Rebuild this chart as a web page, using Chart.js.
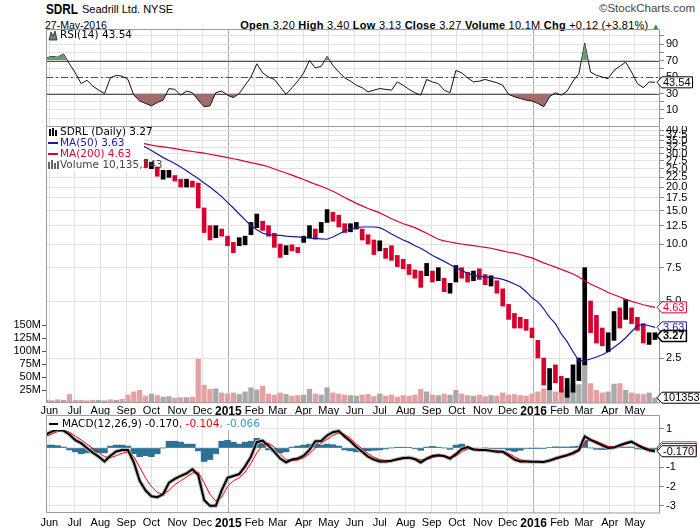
<!DOCTYPE html>
<html>
<head>
<meta charset="utf-8">
<script src="https://cdn.jsdelivr.net/npm/chart.js@4.4.0/dist/chart.umd.min.js"></script>
<style>
body { margin: 0; width: 700px; height: 530px; overflow: hidden; position: relative; background: #fff; font-family: "Liberation Sans", Arial, sans-serif; }
canvas { position: absolute; left: 0; }
.hd { position: absolute; white-space: nowrap; color: #000; line-height: 1; }
</style>
</head>
<body>
<div class="hd" style="left:46px;top:2px;font-size:14px;font-weight:bold;transform:scaleX(0.84);transform-origin:left top">SDRL</div>
<div class="hd" style="left:82px;top:4px;font-size:11px">Seadrill Ltd. NYSE</div>
<div class="hd" style="right:5px;top:3px;font-size:11.5px;color:#444">&copy;StockCharts.com</div>
<div class="hd" style="left:45px;top:20px;font-size:10.5px">27-May-2016</div>
<div class="hd" style="right:40px;top:20px;font-size:11px;letter-spacing:0.25px"><b>Open</b> 3.20 <b>High</b> 3.40 <b>Low</b> 3.13 <b>Close</b> 3.27 <b>Volume</b> 10.1M <b>Chg</b> +0.12 (+3.81%) <span style="color:#3a8a3a;font-size:8px">&#9650;</span></div>

<canvas id="rsiChart" width="700" height="97" style="top:29px;width:700px;height:97px"></canvas>
<canvas id="priceChart" width="700" height="291" style="top:126px;width:700px;height:291px"></canvas>
<canvas id="macdChart" width="700" height="115" style="top:415px;width:700px;height:115px"></canvas>

<script>
// weekly samples, one per week starting Wed 28-May-2014
const firstWeek = '2014-05-28';

const highs = [39.5, 40.0, 39.8, 39.5, 39.0, 38.5, 38.0, 37.5, 37.2, 37.5,
  37.5, 37.2, 37.2, 37.0, 36.0, 34.0, 31.0, 28.0, 27.0, 25.5,
  24.5, 24.5, 23.0, 22.0, 22.0, 21.5, 21.0, 15.5, 12.5, 12.5,
  12.0, 11.0, 10.2, 10.8, 11.0, 13.0, 14.4, 13.2, 12.5, 11.4,
  10.0, 9.8, 9.9, 9.6, 11.0, 12.5, 12.0, 13.0, 15.2, 14.7,
  14.2, 12.8, 12.8, 13.0, 12.0, 11.2, 10.5, 10.4, 9.5, 9.8,
  8.7, 8.3, 7.8, 7.3, 7.2, 7.9, 7.2, 7.5, 6.6, 6.2,
  7.7, 7.5, 7.1, 7.2, 7.4, 6.9, 6.8, 6.4, 5.8, 4.8,
  4.3, 4.1, 4.0, 3.6, 3.1, 2.5, 2.2, 2.3, 2.0, 1.95,
  2.3, 2.5, 7.5, 5.0, 4.2, 3.6, 3.4, 4.4, 4.6, 5.1,
  4.6, 4.1, 3.8, 3.4, 3.40];
const lows = [37.8, 38.5, 38.6, 38.0, 37.5, 37.0, 36.5, 36.0, 35.8, 36.0,
  36.2, 36.0, 36.0, 35.8, 33.5, 30.5, 28.5, 25.5, 25.0, 22.8,
  22.0, 22.5, 21.5, 20.0, 20.0, 20.0, 15.5, 11.5, 10.5, 10.8,
  11.0, 9.8, 9.0, 9.8, 9.9, 11.2, 12.2, 11.8, 11.0, 9.6,
  8.5, 8.8, 9.2, 9.0, 10.2, 10.8, 10.6, 11.5, 13.0, 13.2,
  12.3, 11.5, 11.6, 12.0, 10.5, 10.0, 8.8, 9.2, 8.4, 8.2,
  7.6, 7.4, 6.9, 6.6, 5.9, 6.8, 6.3, 6.4, 5.6, 5.5,
  6.3, 6.6, 6.3, 6.4, 6.5, 6.1, 6.0, 5.5, 4.7, 4.0,
  3.6, 3.6, 3.5, 3.2, 2.5, 1.8, 1.7, 1.85, 1.65, 1.55,
  1.65, 1.9, 2.3, 3.4, 3.0, 2.9, 2.7, 3.1, 3.6, 4.0,
  3.8, 3.5, 3.0, 2.95, 3.13];
const closes = [38.8, 39.5, 39.0, 39.2, 38.0, 37.6, 37.0, 36.5, 36.2, 36.8,
  36.9, 36.5, 36.8, 36.2, 34.0, 31.0, 29.0, 26.0, 26.2, 23.0,
  23.5, 23.8, 22.0, 21.0, 21.2, 20.8, 16.0, 12.0, 11.0, 12.0,
  11.4, 10.0, 9.5, 10.4, 10.8, 12.8, 13.0, 12.0, 11.2, 9.8,
  9.0, 9.5, 9.4, 9.3, 10.8, 11.8, 11.0, 12.8, 14.8, 13.5,
  12.6, 12.0, 12.2, 12.4, 10.8, 10.6, 9.2, 9.8, 8.7, 8.6,
  7.9, 7.8, 7.0, 6.8, 6.7, 7.4, 6.5, 7.0, 5.8, 6.0,
  7.4, 6.9, 6.6, 6.8, 6.7, 6.3, 6.5, 5.8, 4.8, 4.1,
  3.9, 3.7, 3.6, 3.3, 2.6, 1.9, 2.0, 1.95, 1.7, 1.8,
  2.2, 2.4, 4.2, 3.6, 3.2, 3.0, 3.2, 4.2, 4.1, 4.5,
  4.0, 3.7, 3.1, 3.15, 3.27];
// volume in millions of shares
const volumes = [6, 5, 7, 6, 17, 6, 6, 5, 6, 6,
  5, 7, 6, 8, 16, 22, 25, 14, 18, 15,
  12, 13, 10, 11, 11, 12, 85, 35, 27, 28,
  20, 18, 20, 17, 22, 30, 26, 33, 18, 16,
  20, 17, 14, 15, 16, 27, 18, 16, 30, 20,
  18, 16, 15, 14, 16, 17, 13, 18, 14, 16,
  12, 15, 14, 16, 27, 22, 16, 15, 18, 16,
  25, 18, 15, 14, 16, 13, 15, 14, 20, 16,
  17, 15, 14, 18, 22, 28, 27, 22, 25, 30,
  38, 36, 80, 38, 25, 20, 22, 37, 38, 25,
  20, 18, 17, 20, 10.135343];
const ma50 = [36.3, 36.6, 36.9, 37.2, 37.4, 37.6, 37.7, 37.7, 37.6, 37.4,
  37.1, 36.6, 36.2, 35.9, 35.6, 35.0, 33.8, 32.4, 31.2, 29.9,
  28.6, 27.6, 26.6, 25.5, 24.4, 23.2, 22.2, 21.0, 20.0, 18.9,
  17.8, 16.6, 15.5, 14.4, 13.4, 12.5, 11.9, 11.4, 11.2, 11.1,
  11.1, 11.0, 10.95, 10.9, 10.8, 10.75, 10.7, 10.65, 10.6, 10.9,
  11.3, 11.7, 12.0, 12.2, 12.3, 12.3, 12.3, 12.2, 11.8, 11.3,
  10.9, 10.5, 10.2, 9.8, 9.5, 9.1, 8.7, 8.4, 8.1, 7.8,
  7.5, 7.25, 7.0, 6.85, 6.75, 6.7, 6.65, 6.6, 6.5, 6.35,
  6.15, 5.95, 5.6, 5.2, 4.95, 4.55, 4.1, 3.8, 3.35, 3.05,
  2.7, 2.42, 2.42, 2.47, 2.53, 2.6, 2.7, 2.85, 3.0, 3.2,
  3.45, 3.7, 3.76, 3.7, 3.63];
const ma200 = [36.4, 36.5, 36.6, 36.6, 36.6, 36.6, 36.5, 36.5, 36.4, 36.3,
  36.2, 36.0, 35.7, 35.3, 34.9, 34.5, 34.2, 33.8, 33.3, 32.9,
  32.6, 32.3, 31.9, 31.5, 31.1, 30.8, 30.5, 30.2, 29.8, 29.4,
  29.0, 28.6, 28.2, 27.8, 27.3, 26.9, 26.5, 26.1, 25.6, 24.9,
  24.3, 23.7, 23.1, 22.5, 21.9, 21.3, 20.7, 20.2, 19.6, 19.0,
  18.3, 17.6, 17.0, 16.4, 15.9, 15.4, 15.0, 14.6, 14.1, 13.6,
  13.2, 12.8, 12.5, 12.2, 11.8, 11.4, 11.0, 10.6, 10.4, 10.25,
  10.1, 10.0, 9.9, 9.8, 9.7, 9.6, 9.5, 9.35, 9.2, 9.05,
  8.95, 8.8, 8.6, 8.45, 8.2, 7.95, 7.75, 7.55, 7.35, 7.15,
  6.95, 6.7, 6.4, 6.15, 5.95, 5.75, 5.55, 5.4, 5.25, 5.1,
  4.98, 4.88, 4.78, 4.7, 4.63];
const rsi = [73, 75, 74, 78, 66, 55, 42, 46, 39, 34,
  30, 49, 52, 51, 47, 28, 21, 18, 15, 19,
  22, 36, 35, 28, 33, 31, 22, 14, 15, 31,
  33, 28, 25, 30, 40, 50, 66, 55, 50, 47,
  38, 29, 37, 45, 55, 70, 61, 63, 75, 64,
  56, 49, 45, 40, 37, 32, 34, 36, 35, 34,
  44, 40, 35, 31, 28, 47, 44, 42, 34, 31,
  58, 55, 49, 44, 45, 47, 45, 43, 40, 29,
  26, 24, 22, 21, 18, 14, 26, 31, 28, 33,
  45, 54, 91, 56, 52, 50, 48, 58, 63, 68,
  56, 42, 37, 44, 43.54];
const macd = [0.7, 0.85, 0.95, 0.9, 0.7, 0.41, 0.25, 0.0, -0.25, -0.45,
  -0.7, -0.4, -0.18, -0.1, -0.1, -0.75, -1.7, -2.2, -2.5, -2.55,
  -2.4, -1.8, -1.6, -1.45, -1.32, -1.1, -1.4, -2.7, -3.0, -3.0,
  -2.2, -1.55, -1.45, -1.35, -0.95, -0.45, 0.3, 0.38, 0.12, -0.2,
  -0.55, -0.75, -0.6, -0.55, -0.4, -0.1, 0.35, 0.36, 0.65, 0.82,
  0.88, 0.6, 0.35, 0.05, -0.2, -0.45, -0.6, -0.7, -0.7, -0.66,
  -0.58, -0.52, -0.5, -0.58, -0.75, -0.55, -0.42, -0.38, -0.42, -0.55,
  -0.32, -0.05, 0.05, -0.08, -0.1, -0.1, -0.15, -0.19, -0.2, -0.38,
  -0.6, -0.7, -0.7, -0.71, -0.71, -0.72, -0.65, -0.54, -0.45, -0.37,
  -0.25, -0.1, 0.6, 0.42, 0.28, 0.14, 0.0, 0.02, 0.14, 0.25,
  0.33, 0.15, 0.0, -0.12, -0.170];
const signal = [0.6, 0.72, 0.85, 0.9, 0.82, 0.62, 0.42, 0.2, -0.02, -0.22,
  -0.45, -0.5, -0.4, -0.28, -0.2, -0.45, -1.0, -1.55, -2.0, -2.3,
  -2.4, -2.2, -1.9, -1.7, -1.5, -1.3, -1.25, -1.8, -2.4, -2.75,
  -2.55, -2.0, -1.7, -1.55, -1.25, -0.8, -0.25, 0.15, 0.25, 0.05,
  -0.3, -0.6, -0.65, -0.62, -0.5, -0.3, 0.0, 0.25, 0.45, 0.65,
  0.78, 0.7, 0.5, 0.2, -0.05, -0.3, -0.48, -0.6, -0.65, -0.66,
  -0.62, -0.56, -0.52, -0.54, -0.62, -0.6, -0.5, -0.42, -0.42, -0.48,
  -0.42, -0.2, -0.05, -0.05, -0.08, -0.1, -0.12, -0.15, -0.18, -0.28,
  -0.45, -0.6, -0.68, -0.7, -0.7, -0.7, -0.68, -0.6, -0.5, -0.42,
  -0.32, -0.18, 0.3, 0.42, 0.35, 0.22, 0.08, 0.04, 0.1, 0.2,
  0.28, 0.2, 0.06, -0.05, -0.104];
const histogram = [0.15, 0.15, 0.12, 0.05, -0.1, -0.2, -0.3, -0.25, -0.25, -0.25,
  -0.25, 0.1, 0.15, 0.15, 0.1, -0.3, -0.45, -0.4, -0.45, -0.3,
  0.0, 0.35, 0.35, 0.3, 0.2, 0.2, -0.15, -0.7, -0.6, -0.3,
  0.35, 0.4, 0.3, 0.2, 0.3, 0.35, 0.5, 0.25, -0.1, -0.2,
  -0.25, -0.2, 0.05, 0.1, 0.15, 0.2, 0.3, 0.15, 0.2, 0.17,
  0.1, -0.1, -0.15, -0.2, -0.2, -0.15, -0.12, -0.1, -0.05, 0.0,
  0.04, 0.04, 0.02, -0.04, -0.12, 0.05, 0.08, 0.04, 0.0, -0.07,
  0.15, 0.2, 0.08, -0.03, -0.02, 0.0, -0.03, -0.04, -0.04, -0.12,
  -0.18, -0.12, -0.03, -0.01, -0.01, -0.02, 0.03, 0.06, 0.05, 0.05,
  0.07, 0.1, 0.4, 0.0, -0.07, -0.08, -0.08, 0.0, 0.04, 0.05,
  0.05, -0.05, -0.06, -0.07, -0.066];

const monthLabels = ['Jun', 'Jul', 'Aug', 'Sep', 'Oct', 'Nov', 'Dec', '2015', 'Feb', 'Mar', 'Apr', 'May',
  'Jun', 'Jul', 'Aug', 'Sep', 'Oct', 'Nov', 'Dec', '2016', 'Feb', 'Mar', 'Apr', 'May'];
const monthStarts = ['2014-06-01', '2014-07-01', '2014-08-01', '2014-09-01', '2014-10-01', '2014-11-01',
  '2014-12-01', '2015-01-01', '2015-02-01', '2015-03-01', '2015-04-01', '2015-05-01',
  '2015-06-01', '2015-07-01', '2015-08-01', '2015-09-01', '2015-10-01', '2015-11-01',
  '2015-12-01', '2016-01-01', '2016-02-01', '2016-03-01', '2016-04-01', '2016-05-01'];
const priceTicks = [2.5, 5, 7.5, 10, 12.5, 15, 17.5, 20, 22.5, 25, 27.5, 30, 32.5, 35, 37.5, 40];
const volumeTicks = [25, 50, 75, 100, 125, 150];
const rsiTicks = [0, 10, 20, 30, 40, 50, 60, 70, 80, 90, 100];
const macdTicks = [-3, -2, -1, 0, 1];

const FONT = '"Liberation Sans", Arial, sans-serif';
const LEG_FONT = '10.5px "DejaVu Sans", sans-serif';
const RED = '#dd0033', NAVY = '#1a1a9c';

function dayOf(s) {
  const p = s.split('-').map(Number);
  return (Date.UTC(p[0], p[1] - 1, p[2]) - Date.UTC(2015, 0, 1)) / 86400000;
}
const X_MIN = dayOf('2014-05-28'), X_MAX = dayOf('2016-05-31');
const weekDays = highs.map((_, i) => dayOf(firstWeek) + 7 * i);
const monthDays = monthStarts.map(dayOf);
const last = highs.length - 1;
const isUp = i => i === 0 || closes[i] >= closes[i - 1];
const isYear = c => c.index !== undefined && monthLabels[c.index] && monthLabels[c.index].length === 4;

function xScale(showLabels, h, pad) {
  return {
    type: 'linear', min: X_MIN, max: X_MAX, offset: false,
    afterBuildTicks: s => { s.ticks = monthDays.map(v => ({ value: v })); },
    afterFit: s => { s.height = h; s.paddingLeft = 0; s.paddingRight = 0; },
    ticks: {
      display: showLabels, autoSkip: false, maxRotation: 0, padding: pad, color: '#000',
      callback: (v, i) => monthLabels[i],
      font: c => isYear(c) ? { family: FONT, size: 12, weight: 'bold' } : { family: FONT, size: 11 }
    },
    grid: { color: c => isYear(c) ? '#b0b0b0' : '#e0e0e0', drawTicks: false, offset: false },
    border: { display: false }
  };
}

function rightAxis(extra) {
  return Object.assign({
    position: 'right',
    afterFit: s => { s.width = 40; s.paddingTop = 0; s.paddingBottom = 0; },
    grid: { color: '#e2e2e2', tickLength: 4, tickColor: '#888' },
    border: { display: false }
  }, extra);
}

function frame(skipBottom) {
  return {
    id: 'frame',
    afterDatasetsDraw(chart) {
      const { ctx, chartArea: a } = chart;
      ctx.save();
      ctx.strokeStyle = '#9a9a9a';
      ctx.lineWidth = 1;
      ctx.beginPath();
      ctx.moveTo(a.left + 0.5, a.bottom);
      ctx.lineTo(a.left + 0.5, a.top + 0.5);
      ctx.lineTo(a.right - 0.5, a.top + 0.5);
      ctx.lineTo(a.right - 0.5, a.bottom);
      if (!skipBottom) ctx.lineTo(a.left + 0.5, a.bottom - 0.5);
      ctx.stroke();
      ctx.restore();
    }
  };
}

function drawTag(chart, y, text, color, bold) {
  const { ctx, chartArea: a } = chart;
  ctx.save();
  ctx.font = (bold ? 'bold ' : '') + '11px ' + FONT;
  const w = ctx.measureText(text).width + 3;
  const x0 = a.right - 3, h = 11;
  ctx.beginPath();
  ctx.moveTo(x0, y);
  ctx.lineTo(x0 + 5, y - h / 2);
  ctx.lineTo(x0 + 5 + w, y - h / 2);
  ctx.lineTo(x0 + 5 + w, y + h / 2);
  ctx.lineTo(x0 + 5, y + h / 2);
  ctx.closePath();
  ctx.fillStyle = '#fff';
  ctx.fill();
  ctx.strokeStyle = color;
  ctx.lineWidth = bold ? 1.5 : 1;
  ctx.stroke();
  ctx.fillStyle = color;
  ctx.textBaseline = 'middle';
  ctx.textAlign = 'left';
  ctx.fillText(text, x0 + 6, y + 0.5);
  ctx.restore();
}

// ---------- RSI panel ----------
const rsiLines = {
  id: 'rsiLines',
  beforeDatasetsDraw(chart) {
    const { ctx, chartArea: a, scales } = chart;
    ctx.save();
    ctx.strokeStyle = '#555';
    ctx.lineWidth = 1;
    [70, 30].forEach(v => {
      const y = Math.round(scales.y.getPixelForValue(v)) + 0.5;
      ctx.beginPath(); ctx.moveTo(a.left, y); ctx.lineTo(a.right, y); ctx.stroke();
    });
    const y5 = Math.round(scales.y.getPixelForValue(50)) + 0.5;
    ctx.setLineDash([7, 3, 2, 3]);
    ctx.beginPath(); ctx.moveTo(a.left, y5); ctx.lineTo(a.right, y5); ctx.stroke();
    ctx.restore();
  },
  afterDraw(chart) {
    const { ctx, chartArea: a, scales } = chart;
    ctx.save();
    ctx.fillStyle = '#fff';
    ctx.fillRect(a.left + 1, a.top + 1, 86, 11);
    ctx.fillStyle = '#5f8f5f';
    ctx.beginPath();
    ctx.moveTo(a.left + 3, a.top + 11); ctx.lineTo(a.left + 5, a.top + 3); ctx.lineTo(a.left + 7, a.top + 7);
    ctx.lineTo(a.left + 9, a.top + 2); ctx.lineTo(a.left + 11, a.top + 11); ctx.closePath(); ctx.fill();
    ctx.strokeStyle = '#222'; ctx.lineWidth = 0.8; ctx.stroke();
    ctx.fillStyle = '#000';
    ctx.font = LEG_FONT;
    ctx.textBaseline = 'middle';
    ctx.fillText('RSI(14) ' + rsi[last].toFixed(2), a.left + 14, a.top + 6.5);
    ctx.restore();
    drawTag(chart, scales.y.getPixelForValue(rsi[last]), rsi[last].toFixed(2), '#000', false);
  }
};

new Chart(document.getElementById('rsiChart'), {
  type: 'line',
  data: {
    datasets: [
      {
        data: weekDays.map((d, i) => ({ x: d, y: rsi[i] })),
        borderWidth: 0, pointRadius: 0,
        fill: { target: { value: 70 }, above: '#6f9a6f', below: 'rgba(0,0,0,0)' }
      },
      {
        data: weekDays.map((d, i) => ({ x: d, y: rsi[i] })),
        borderColor: '#111', borderWidth: 1, pointRadius: 0,
        fill: { target: { value: 30 }, above: 'rgba(0,0,0,0)', below: '#a56b6b' }
      }
    ]
  },
  options: {
    responsive: false, animation: false, devicePixelRatio: 1,
    layout: { autoPadding: false, padding: { left: 46 } },
    plugins: { legend: { display: false }, tooltip: { enabled: false } },
    scales: {
      x: xScale(false, 0, 0),
      y: rightAxis({
        min: -9.4, max: 108.2,
        afterBuildTicks: s => { s.ticks = rsiTicks.map(v => ({ value: v })); },
        ticks: { autoSkip: false, padding: 2, color: '#000', font: { family: FONT, size: 11 },
          callback: v => (v % 20 === 10 ? String(v) : '') }
      })
    }
  },
  plugins: [rsiLines, frame(true)]
});

// ---------- Price + volume panel ----------
const priceLegend = {
  id: 'priceLegend',
  afterDraw(chart) {
    const { ctx, chartArea: a, scales } = chart;
    ctx.save();
    ctx.fillStyle = '#fff';
    ctx.fillRect(a.left + 1, a.top + 1, 97, 44);
    ctx.font = LEG_FONT;
    ctx.textBaseline = 'middle';
    const tx = a.left + 14;
    // candle icon
    ctx.fillStyle = '#000';
    ctx.fillRect(a.left + 3, a.top + 3, 2, 7);
    ctx.fillRect(a.left + 6, a.top + 2, 2, 8);
    ctx.fillRect(a.left + 9, a.top + 4, 2, 6);
    ctx.fillText('SDRL (Daily) ' + closes[last].toFixed(2), tx, a.top + 6.5);
    ctx.fillStyle = NAVY;
    ctx.fillRect(a.left + 2, a.top + 16, 10, 2);
    ctx.fillText('MA(50) ' + ma50[last].toFixed(2), tx, a.top + 17.5);
    ctx.fillStyle = RED;
    ctx.fillRect(a.left + 2, a.top + 27, 10, 2);
    ctx.fillText('MA(200) ' + ma200[last].toFixed(2), tx, a.top + 28.5);
    ctx.fillStyle = '#666';
    ctx.fillRect(a.left + 2, a.top + 36, 2, 7);
    ctx.fillRect(a.left + 5, a.top + 34, 2, 9);
    ctx.fillRect(a.left + 8, a.top + 37, 2, 6);
    ctx.fillRect(a.left + 11, a.top + 35, 2, 8);
    ctx.fillStyle = '#444';
    const vol = Math.round(volumes[last] * 1e6);
    ctx.fillText('Volume ' + vol.toLocaleString('en-US'), tx, a.top + 39.5);
    ctx.restore();
    drawTag(chart, scales.y.getPixelForValue(ma200[last]), ma200[last].toFixed(2), RED, false);
    drawTag(chart, scales.y.getPixelForValue(ma50[last]), ma50[last].toFixed(2), NAVY, false);
    drawTag(chart, scales.y.getPixelForValue(closes[last]), closes[last].toFixed(2), '#000', true);
    drawTag(chart, scales.yv.getPixelForValue(volumes[last]), String(vol), '#000', false);
  }
};

new Chart(document.getElementById('priceChart'), {
  type: 'bar',
  data: {
    datasets: [
      {
        type: 'line', order: 1,
        data: weekDays.map((d, i) => ({ x: d, y: ma200[i] })),
        borderColor: RED, borderWidth: 1.2, pointRadius: 0, yAxisID: 'y'
      },
      {
        type: 'line', order: 1,
        data: weekDays.map((d, i) => ({ x: d, y: ma50[i] })),
        borderColor: NAVY, borderWidth: 1.2, pointRadius: 0, yAxisID: 'y'
      },
      {
        order: 2, grouped: false, yAxisID: 'y',
        data: weekDays.map((d, i) => ({ x: d, y: [lows[i], highs[i]] })),
        backgroundColor: highs.map((_, i) => isUp(i) ? '#000' : '#d8002e'),
        barThickness: 4
      },
      {
        order: 5, grouped: false, yAxisID: 'yv',
        data: weekDays.map((d, i) => ({ x: d, y: volumes[i] })),
        backgroundColor: highs.map((_, i) => isUp(i) ? '#a9a9a9' : '#e3a1a1'),
        barPercentage: 0.9, categoryPercentage: 1
      }
    ]
  },
  options: {
    responsive: false, animation: false, devicePixelRatio: 1,
    layout: { autoPadding: false },
    plugins: { legend: { display: false }, tooltip: { enabled: false } },
    scales: {
      x: xScale(true, 14, 1),
      y: rightAxis({
        type: 'logarithmic', min: 1.447, max: 42.0,
        afterBuildTicks: s => { s.ticks = priceTicks.map(v => ({ value: v })); },
        ticks: { autoSkip: false, padding: 2, color: '#000', font: { family: FONT, size: 11 },
          callback: v => Number(v).toFixed(1) }
      }),
      yv: {
        position: 'left', min: 0, max: 532.7,
        afterFit: s => { s.width = 46; s.paddingTop = 0; s.paddingBottom = 0; },
        afterBuildTicks: s => { s.ticks = volumeTicks.map(v => ({ value: v })); },
        grid: { drawOnChartArea: false, tickLength: 4, tickColor: '#555' },
        border: { display: false },
        ticks: { autoSkip: false, padding: 1, color: '#000', font: { family: FONT, size: 11 },
          callback: v => v + 'M' }
      }
    }
  },
  plugins: [frame(false), priceLegend]
});

// ---------- MACD panel ----------
const macdLegend = {
  id: 'macdLegend',
  afterDraw(chart) {
    const { ctx, chartArea: a, scales } = chart;
    ctx.save();
    ctx.font = LEG_FONT;
    ctx.textBaseline = 'middle';
    const p1 = 'MACD(12,26,9) ' + macd[last].toFixed(3);
    const p2 = ', ' + signal[last].toFixed(3);
    const p3 = ', ' + histogram[last].toFixed(3);
    const w1 = ctx.measureText(p1).width, w2 = ctx.measureText(p2).width, w3 = ctx.measureText(p3).width;
    ctx.fillStyle = '#fff';
    ctx.fillRect(a.left + 1, a.top + 1, 16 + w1 + w2 + w3, 14);
    ctx.fillStyle = '#000';
    ctx.fillRect(a.left + 3, a.top + 8, 9, 2);
    const tx = a.left + 16, ty = a.top + 9;
    ctx.fillText(p1, tx, ty);
    ctx.fillStyle = '#ee0000';
    ctx.fillText(p2, tx + w1, ty);
    ctx.fillStyle = '#3a98cc';
    ctx.fillText(p3, tx + w1 + w2, ty);
    ctx.restore();
    drawTag(chart, scales.y.getPixelForValue(histogram[last]) - 2, histogram[last].toFixed(3), '#3a80b0', false);
    drawTag(chart, scales.y.getPixelForValue(signal[last]) - 1, signal[last].toFixed(3), '#ee0000', false);
    drawTag(chart, scales.y.getPixelForValue(macd[last]), macd[last].toFixed(3), '#000', false);
  }
};

new Chart(document.getElementById('macdChart'), {
  type: 'line',
  data: {
    datasets: [
      {
        type: 'line', order: 1,
        data: weekDays.map((d, i) => ({ x: d, y: signal[i] })),
        borderColor: '#ff0000', borderWidth: 1, pointRadius: 0
      },
      {
        type: 'line', order: 0,
        data: weekDays.map((d, i) => ({ x: d, y: macd[i] })),
        borderColor: '#000', borderWidth: 2, pointRadius: 0
      },
      {
        type: 'line', order: 2,
        data: weekDays.map((d, i) => ({ x: d, y: macd[i] })),
        borderColor: '#b8b8b8', borderWidth: 4, pointRadius: 0
      },
      {
        type: 'bar', order: 3, grouped: false,
        data: weekDays.map((d, i) => ({ x: d, y: histogram[i] })),
        backgroundColor: '#2c7297', barPercentage: 1, categoryPercentage: 1
      }
    ]
  },
  options: {
    responsive: false, animation: false, devicePixelRatio: 1,
    layout: { autoPadding: false, padding: { left: 46 } },
    plugins: { legend: { display: false }, tooltip: { enabled: false } },
    scales: {
      x: xScale(true, 17, 3),
      y: rightAxis({
        min: -3.37, max: 1.71,
        afterBuildTicks: s => { s.ticks = macdTicks.map(v => ({ value: v })); },
        ticks: { autoSkip: false, padding: 2, color: '#000', font: { family: FONT, size: 11 },
          callback: v => String(v) }
      })
    }
  },
  plugins: [frame(false), macdLegend]
});
</script>
</body>
</html>
